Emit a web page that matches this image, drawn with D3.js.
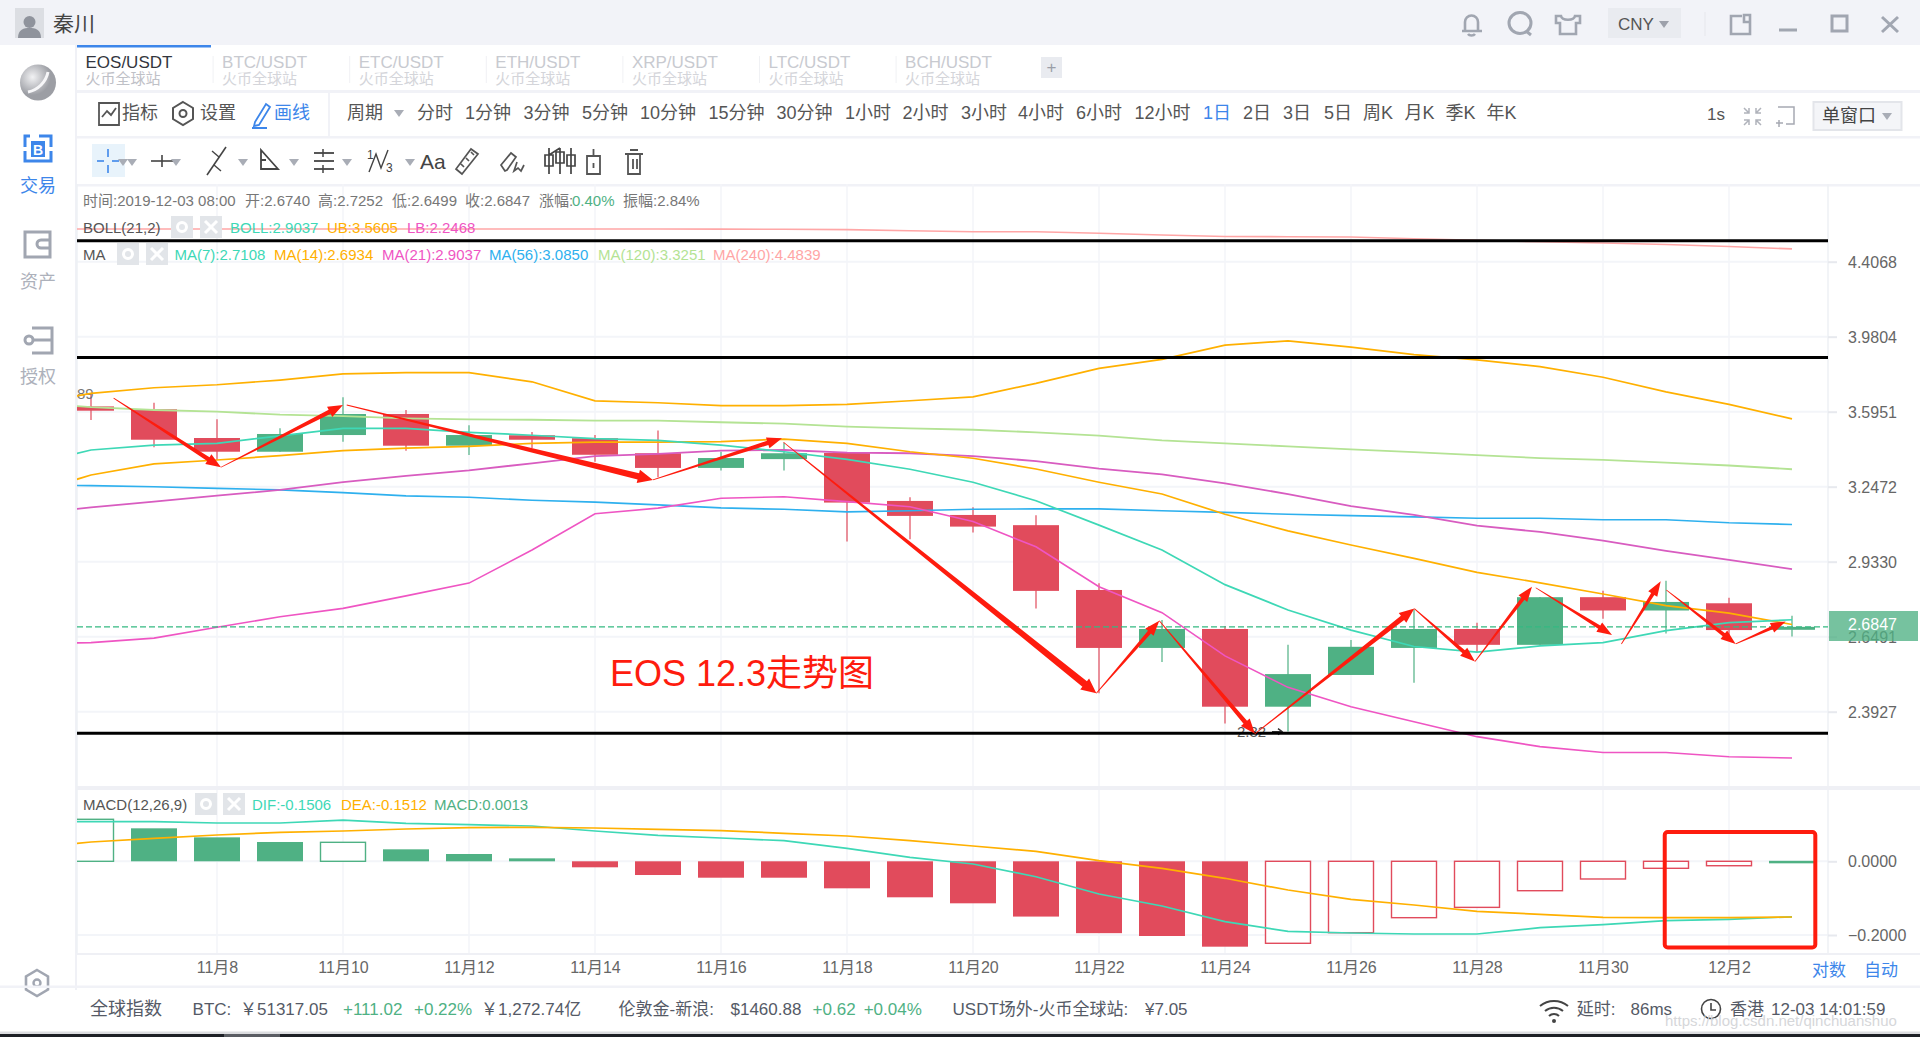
<!DOCTYPE html>
<html>
<head>
<meta charset="utf-8">
<title>EOS/USDT</title>
<script src="https://cdn.jsdelivr.net/npm/d3@7/dist/d3.min.js"></script>
<style>
  html, body { margin: 0; padding: 0; background: #fff; overflow: hidden; }
  svg { display: block; }
  text { font-family: "Liberation Sans", "Noto Sans CJK SC", sans-serif; dominant-baseline: central; }
</style>
</head>
<body>
<svg id="chart" width="1920" height="1037"></svg>
<script>
// chart data, one entry per day starting 11月5 (off the left edge, only the lines reach it)
const dates = ["11月5", "11月6", "11月7", "11月8", "11月9", "11月10", "11月11", "11月12", "11月13", "11月14",
  "11月15", "11月16", "11月17", "11月18", "11月19", "11月20", "11月21", "11月22", "11月23", "11月24",
  "11月25", "11月26", "11月27", "11月28", "11月29", "11月30", "12月1", "12月2", "12月3"];

const opens = [null, 3.621, 3.607, 3.469, 3.405, 3.483, 3.584, 3.433, 3.482, 3.468, 3.398, 3.331, 3.371, 3.399,
  3.185, 3.125, 3.082, 2.8225, 2.609, 2.677, 2.409, 2.515, 2.609, 2.677, 2.620, 2.795, 2.745, 2.772, 2.6740];
const closes = [null, 3.600, 3.461, 3.405, 3.488, 3.584, 3.433, 3.483, 3.461, 3.391, 3.331, 3.376, 3.398, 3.178,
  3.121, 3.076, 2.819, 2.609, 2.677, 2.409, 2.518, 2.613, 2.677, 2.620, 2.795, 2.745, 2.777, 2.673, 2.6847];
const highs = [null, 3.686, 3.639, 3.558, 3.515, 3.666, 3.604, 3.530, 3.497, 3.483, 3.504, 3.405, 3.447, 3.400,
  3.201, 3.158, 3.124, 2.848, 2.710, 2.688, 2.620, 2.637, 2.750, 2.700, 2.796, 2.820, 2.858, 2.793, 2.7252];
const lows = [null, 3.555, 3.426, 3.367, 3.405, 3.452, 3.410, 3.390, 3.422, 3.359, 3.289, 3.319, 3.319, 3.014,
  3.024, 3.051, 2.752, 2.453, 2.560, 2.355, 2.329, 2.515, 2.489, 2.595, 2.620, 2.714, 2.661, 2.655, 2.6499];

const bollUpper = [3.628, 3.686, 3.714, 3.729, 3.753, 3.784, 3.791, 3.791, 3.744, 3.648, 3.639, 3.625, 3.625, 3.631,
  3.649, 3.668, 3.736, 3.813, 3.860, 3.935, 3.958, 3.924, 3.885, 3.857, 3.822, 3.767, 3.693, 3.631, 3.5605];
const bollLower = [2.623, 2.628, 2.644, 2.683, 2.722, 2.753, 2.800, 2.849, 2.980, 3.130, 3.154, 3.197, 3.203, 3.182,
  3.160, 3.097, 2.993, 2.835, 2.737, 2.581, 2.473, 2.409, 2.360, 2.313, 2.282, 2.264, 2.264, 2.251, 2.2468];
const ma7 = [3.344, 3.413, 3.436, 3.444, 3.479, 3.515, 3.515, 3.496, 3.482, 3.466, 3.458, 3.436, 3.405, 3.370,
  3.325, 3.267, 3.186, 3.082, 2.980, 2.843, 2.747, 2.673, 2.614, 2.594, 2.616, 2.628, 2.671, 2.700, 2.7108];
const ma14 = [3.215, 3.299, 3.349, 3.367, 3.387, 3.410, 3.422, 3.430, 3.444, 3.450, 3.450, 3.452, 3.464, 3.444,
  3.405, 3.375, 3.326, 3.267, 3.215, 3.128, 3.058, 3.000, 2.946, 2.891, 2.850, 2.807, 2.763, 2.735, 2.6934];
const ma21 = [3.129, 3.157, 3.182, 3.208, 3.233, 3.267, 3.295, 3.320, 3.352, 3.385, 3.395, 3.410, 3.413, 3.401,
  3.398, 3.385, 3.362, 3.328, 3.302, 3.262, 3.215, 3.163, 3.125, 3.080, 3.054, 3.018, 2.976, 2.940, 2.9037];
const ma56 = [3.2558, 3.2517, 3.2472, 3.240, 3.233, 3.221, 3.207, 3.201, 3.188, 3.180, 3.168, 3.155, 3.149, 3.138,
  3.143, 3.149, 3.151, 3.151, 3.143, 3.136, 3.128, 3.122, 3.117, 3.111, 3.111, 3.105, 3.105, 3.092, 3.0850];
const ma120 = [3.643, 3.617, 3.6035, 3.595, 3.581, 3.574, 3.563, 3.558, 3.556, 3.552, 3.552, 3.544, 3.537, 3.523,
  3.515, 3.508, 3.496, 3.480, 3.458, 3.444, 3.430, 3.416, 3.403, 3.389, 3.376, 3.368, 3.355, 3.342, 3.3251];
const ma240 = [4.607, 4.607, 4.607, 4.607, 4.607, 4.607, 4.607, 4.607, 4.607, 4.607, 4.607, 4.606, 4.605, 4.603,
  4.596, 4.590, 4.590, 4.580, 4.569, 4.560, 4.559, 4.557, 4.546, 4.537, 4.528, 4.520, 4.511, 4.499, 4.4839];

const macdBars = [null, 0.114, 0.0895, 0.065, 0.0524, 0.0515, 0.0325, 0.0198, 0.008, -0.0163, -0.0372, -0.0445,
  -0.0445, -0.0733, -0.0977, -0.114, -0.150, -0.195, -0.2027, -0.2317, -0.2225, -0.1937, -0.153, -0.125, -0.0798,
  -0.048, -0.019, -0.012, 0.0013];
const macdHollowDays = [1, 5, 20, 21, 22, 23, 24, 25, 26, 27];
const dif = [0.1075, 0.1075, 0.1075, 0.104, 0.104, 0.112, 0.103, 0.0993, 0.0958, 0.0822, 0.0706, 0.0632, 0.0559,
  0.0353, 0.0109, -0.0073, -0.0418, -0.0887, -0.1213, -0.1639, -0.19, -0.1946, -0.1973, -0.1973, -0.1802, -0.172,
  -0.1612, -0.1574, -0.1506];
const dea = [0.036, 0.0524, 0.0624, 0.0714, 0.0787, 0.0822, 0.0877, 0.0912, 0.0923, 0.0904, 0.0868, 0.083, 0.076,
  0.0687, 0.0559, 0.0415, 0.0271, 0.0016, -0.019, -0.0461, -0.0779, -0.1031, -0.1186, -0.1357, -0.1438, -0.152,
  -0.153, -0.153, -0.1512];

const priceTicks = [4.4068, 3.9804, 3.5951, 3.2472, 2.9330, 2.6491, 2.3927];
const macdTicks = [0, -0.2];
const dateTicks = [3, 5, 7, 9, 11, 13, 15, 17, 19, 21, 23, 25, 27];
const lastClose = 2.6847;

// hand drawn notes on the picture, given as [day index, price]
const arrowStarts = [[1.359, 3.662], [3.063, 3.334], [5.059, 3.628], [9.919, 3.277], [11.992, 3.449], [16.958, 2.453],
  [17.957, 2.707], [19.476, 2.322], [22.005, 2.752], [22.968, 2.561], [23.932, 2.831], [25.292, 2.623], [26.006, 2.8225], [27.106, 2.623]];
const arrowEnds = [[3.063, 3.334], [5.0, 3.628], [9.919, 3.277], [11.968, 3.468], [16.958, 2.453], [17.957, 2.707],
  [19.476, 2.322], [22.005, 2.752], [22.968, 2.561], [23.873, 2.835], [25.143, 2.655], [25.916, 2.856], [27.106, 2.623], [27.9, 2.704]];
const blackLevels = [4.534, 3.869, 2.3237];

// colours
const red = "#e14b5c", green = "#4fb184", noteRed = "#fe1c0e";
const grid = "#f3f5f9", sep = "#f1f2f7", grey = "#a1a6b1", dark = "#555a66", faint = "#c8cad0", blue = "#3d86ea";
const cTeal = "#3ed8b6", cOrange = "#ffb000", cMagenta = "#ef55c3", cPurple = "#d85cc0", cBlue = "#2eb0ee", cLime = "#b4e394", cPink = "#ffa6a6";

const svg = d3.select("#chart");
const plotLeft = 77, plotRight = 1828, mainTop = 184, mainBottom = 787, macdTop = 790, macdBottom = 953;

const x = d3.scaleLinear().domain([0, 28]).range([28, 1792]);
const y = d3.scaleLog().domain([2.3927, 4.4068]).range([711.7, 261.7]);
const yMacd = d3.scaleLinear().domain([0, -0.2]).range([861.3, 935]);

function txt(s, px, py, size, color, anchor) {
  return svg.append("text").attr("x", px).attr("y", py).attr("font-size", size)
    .attr("fill", color).attr("text-anchor", anchor || "start").text(s);
}
function box(px, py, w, h, fill) {
  return svg.append("rect").attr("x", px).attr("y", py).attr("width", w).attr("height", h).attr("fill", fill);
}
function seg(x1, y1, x2, y2, color, w) {
  return svg.append("line").attr("x1", x1).attr("y1", y1).attr("x2", x2).attr("y2", y2)
    .attr("stroke", color).attr("stroke-width", w || 1);
}
function outline(d, color, w) {
  return svg.append("path").attr("d", d).attr("fill", "none").attr("stroke", color).attr("stroke-width", w || 2);
}
function caret(px, py, color) {
  svg.append("path").attr("d", `M${px},${py - 3}h10l-5,7z`).attr("fill", color || "#a9adb6");
}

// window frame
function drawFrame() {
  box(0, 0, 1920, 45, "#f2f3f8");
  box(15, 8, 29, 30, "#dcdee3");
  svg.append("circle").attr("cx", 29.5).attr("cy", 22).attr("r", 6).attr("fill", "#8f939c");
  svg.append("path").attr("d", "M18,38c0,-9 6,-10 11.5,-10s11.5,1 11.5,10z").attr("fill", "#8f939c");
  txt("秦川", 53, 23, 21, "#444");

  // top right controls
  outline("M1462,31h20M1465,31v-9a6.5,6.5 0 0 1 13,0v9M1468,34a4,3 0 0 0 7,0", grey, 2.6);
  svg.append("ellipse").attr("cx", 1520).attr("cy", 23).attr("rx", 11).attr("ry", 10.5)
    .attr("fill", "none").attr("stroke", grey).attr("stroke-width", 3);
  seg(1526, 31, 1531, 35, grey, 3);
  outline("M1561,16h-5v7h4v11h16v-11h4v-7h-5c-1,5 -13,5 -14,0z", grey, 2.6);
  box(1608, 8, 73, 30, "#e9ebf0");
  txt("CNY", 1618, 24, 17, "#555");
  caret(1659, 24, "#9da1ab");
  seg(1705, 12, 1705, 36, "#e6e7ec", 1);
  outline("M1742,16h-11v18h19v-11M1744,15h6v7h-6z", grey, 2.6);
  seg(1779, 30, 1797, 30, grey, 3);
  outline("M1832,16h15v15h-15z", grey, 3);
  seg(1882, 17, 1898, 32, grey, 3);
  seg(1898, 17, 1882, 32, grey, 3);

  // left side bar
  box(75, 45, 2, 945, "#f0f1f6");
  const orb = svg.append("defs").append("radialGradient").attr("id", "orb").attr("cx", "35%").attr("cy", "35%");
  orb.append("stop").attr("offset", "0%").attr("stop-color", "#f2f2f4");
  orb.append("stop").attr("offset", "100%").attr("stop-color", "#9c9ea4");
  svg.append("ellipse").attr("cx", 38).attr("cy", 82.5).attr("rx", 18).attr("ry", 18).attr("fill", "url(#orb)");
  outline("M28,92c10,-2 18,-10 20,-20", "#f6f6f8", 3);
  outline("M30,136h-5v11M25,151v10h26v-10M51,147v-11h-6M39,136h6", blue, 3);
  box(31, 141, 14, 16, blue);
  svg.append("text").attr("x", 38).attr("y", 149.5).attr("font-size", 14).attr("font-weight", "bold")
    .attr("fill", "#fff").attr("text-anchor", "middle").text("B");
  txt("交易", 38, 186, 18, blue, "middle");
  outline("M25,232h25v25h-25zM50,240h-9a4,4 0 0 0 0,8h9", grey, 3);
  txt("资产", 38, 282, 18, "#adb1bb", "middle");
  outline("M32,328h20v25h-20M29,340h23", grey, 3);
  svg.append("circle").attr("cx", 29).attr("cy", 340).attr("r", 4).attr("fill", "#fff").attr("stroke", grey).attr("stroke-width", 3);
  txt("授权", 38, 377, 18, "#adb1bb", "middle");
  outline("M37,970l11,6.5v13l-11,6.5l-11,-6.5v-13z", grey, 2.6);
  svg.append("circle").attr("cx", 37).attr("cy", 983).attr("r", 3.5).attr("fill", "none").attr("stroke", grey).attr("stroke-width", 2.4);

  // tabs
  box(77, 45, 134, 2.5, blue);
  const tabs = ["EOS/USDT", "BTC/USDT", "ETC/USDT", "ETH/USDT", "XRP/USDT", "LTC/USDT", "BCH/USDT"];
  tabs.forEach((t, i) => {
    const tx = 85.5 + i * 136.6;
    txt(t, tx, 62, 17, i === 0 ? "#33363e" : faint);
    txt("火币全球站", tx, 78, 15, i === 0 ? "#bfc1c7" : "#d4d5da");
    if (i > 0) seg(tx - 9, 56, tx - 9, 83, "#f0f1f4", 1);
  });
  box(1041, 57, 21, 21, "#e9ebf0");
  txt("+", 1051.5, 67, 17, "#9a9ea8", "middle");
  box(77, 90, 1843, 3, sep);
  box(77, 136, 1843, 2.5, sep);
  box(77, 184, 1843, 2.5, sep);
  seg(329, 93, 329, 136, sep, 2);

  // indicator and period row
  outline("M99,103h20v22h-20zM102,117l5,-6l4,4l5,-7", "#555", 1.8);
  txt("指标", 122, 113, 18, "#555");
  outline("M183,102l10,6v11l-10,6l-10,-6v-11z", "#555", 2);
  svg.append("circle").attr("cx", 183).attr("cy", 113.5).attr("r", 3.5).attr("fill", "none").attr("stroke", "#555").attr("stroke-width", 2);
  txt("设置", 200, 113, 18, "#555");
  outline("M255,122l11,-18l4,3l-11,18l-5,1zM252,128h15", blue, 1.8);
  txt("画线", 274, 113, 18, blue);
  txt("周期", 347, 113, 18, "#555");
  caret(394, 113);
  const periods = ["分时", "1分钟", "3分钟", "5分钟", "10分钟", "15分钟", "30分钟", "1小时", "2小时", "3小时", "4小时", "6小时", "12小时",
    "1日", "2日", "3日", "5日", "周K", "月K", "季K", "年K"];
  const periodX = [417, 465, 523.6, 582, 640, 708.5, 776.5, 845, 902.6, 961, 1018, 1076, 1134.5, 1203, 1243, 1283, 1324, 1363, 1404.6, 1445.6, 1486.6];
  periods.forEach((p, i) => txt(p, periodX[i], 113, 18, p === "1日" ? blue : "#555"));
  txt("1s", 1707, 114, 17, "#555");
  outline("M1744,108l5,5M1744,113h5v-5M1761,108l-5,5M1761,113h-5v-5M1744,125l5,-5M1744,120h5v5M1761,125l-5,-5M1761,120h-5v5", "#b0b3bb", 1.5);
  outline("M1778,107h16v17h-8M1779,120v7M1776,123h7", "#a6a9b2", 1.5);
  svg.append("rect").attr("x", 1813.5).attr("y", 102).attr("width", 88).attr("height", 28)
    .attr("fill", "#f4f5f8").attr("stroke", "#e3e5ea").attr("stroke-width", 2);
  txt("单窗口", 1822, 116, 18, "#444");
  caret(1882, 116);

  // drawing tools row
  box(92, 144, 33, 33, "#e8f3fb");
  seg(97, 161, 104, 161, blue, 1.6); seg(112, 161, 119, 161, blue, 1.6);
  seg(108, 149, 108, 157, blue, 1.6); seg(108, 165, 108, 173, blue, 1.6);
  seg(151, 161, 174, 161, "#444", 1.6); seg(162, 155, 162, 167, "#444", 1.6);
  seg(207, 175, 226, 147, "#444", 1.6); seg(212, 151, 219, 157, "#444", 1.4); seg(214, 165, 221, 171, "#444", 1.4);
  outline("M261,150v19h17zM261,160h5", "#444", 1.8);
  seg(314, 153, 334, 153, "#444", 1.8); seg(314, 161, 334, 161, "#444", 1.8); seg(314, 169, 334, 169, "#444", 1.8);
  seg(323, 149, 323, 157, "#444", 1.5); seg(323, 165, 323, 173, "#444", 1.5);
  outline("M369,172l7,-18l5,14l7,-18", "#444", 1.4);
  txt("1", 367, 155, 12, "#444"); txt("3", 386, 168, 12, "#444");
  txt("Aa", 420, 161, 21, "#444");
  outline("M462,174l-6,-5l15,-20l7,5zM461,164l3,3M466,158l3,3M471,152l3,3", "#555", 1.7);
  outline("M505,171l-4,-6l10,-12l5,4l-9,13zM517,162l-3,9l4,-3l3,3l3,-6", "#555", 1.7);
  outline("M549,148v26M560,148v26M571,148v26M545,155h8v11h-8zM556,152h8v11h-8zM567,155h8v11h-8zM549,155l11,-7", "#444", 1.7);
  outline("M587,156h13v18h-13zM593.5,156v-7M593.5,163v5", "#555", 1.8);
  outline("M625,154h18M628,154v20h12v-20M630,150h8M633,159v10M637,159v10", "#555", 1.8);
  [113, 166, 233, 284, 337, 400].forEach(px => caret(px + 15 - 15 + (px > 400 ? 0 : 5), 162));
  caret(127, 162); 
}

// info lines above the chart
function drawInfo() {
  const infoStrings = ["时间:2019-12-03 08:00", "开:2.6740", "高:2.7252", "低:2.6499", "收:2.6847", "涨幅:", "0.40%", "振幅:2.84%"];
  const infoX = [83, 245, 318, 392, 465, 539, 572, 623];
  infoStrings.forEach((s, i) => txt(s, infoX[i], 200, 15, s === "0.40%" ? green : "#777"));

  const badge = (bx, by) => {
    box(bx, by, 22, 22, "#e2e5e9");
  };
  txt("BOLL(21,2)", 83, 227, 15, "#555");
  badge(171, 216); badge(200, 216);
  txt("BOLL:2.9037", 230, 227, 15, cTeal);
  txt("UB:3.5605", 327, 227, 15, cOrange);
  txt("LB:2.2468", 407, 227, 15, cMagenta);
  txt("MA", 83, 254, 15, "#555");
  badge(117, 243); badge(146, 243);
  const maLabels = ["MA(7):2.7108", "MA(14):2.6934", "MA(21):2.9037", "MA(56):3.0850", "MA(120):3.3251", "MA(240):4.4839"];
  const maLabelX = [174.5, 274, 382, 489, 598, 713];
  const maColors = [cTeal, cOrange, cMagenta, cBlue, cLime, cPink];
  maLabels.forEach((s, i) => txt(s, maLabelX[i], 254, 15, maColors[i]));

  txt("MACD(12,26,9)", 83, 804, 15, "#555");
  badge(195, 793); badge(223, 793);
  txt("DIF:-0.1506", 252, 804, 15, cTeal);
  txt("DEA:-0.1512", 341, 804, 15, cOrange);
  txt("MACD:0.0013", 434, 804, 15, green);

  [[182, 227], [211, 227], [128, 254], [157, 254], [206, 804], [234, 804]].forEach(([bx, by], i) => {
    if (i % 2 === 0) {
      svg.append("circle").attr("cx", bx).attr("cy", by).attr("r", 4.5).attr("fill", "none").attr("stroke", "#fff").attr("stroke-width", 3);
    } else {
      seg(bx - 6, by - 6, bx + 6, by + 6, "#fff", 3);
      seg(bx + 6, by - 6, bx - 6, by + 6, "#fff", 3);
    }
  });
}

function drawGrid() {
  dateTicks.forEach(d => {
    seg(x(d), mainTop, x(d), mainBottom, grid, 1.5);
    seg(x(d), macdTop, x(d), macdBottom, grid, 1.5);
  });
  priceTicks.forEach(p => seg(plotLeft, y(p), plotRight, y(p), grid, 2));
  macdTicks.forEach(p => seg(plotLeft, yMacd(p), plotRight, yMacd(p), grid, 2));
  seg(plotLeft, mainTop, plotLeft, macdBottom, "#eef0f4", 1.5);
  seg(plotRight, mainTop, plotRight, macdBottom, "#eef0f4", 1.5);
  box(plotLeft, 786, plotRight - plotLeft + 92, 4, "#eff0f5");
  box(plotLeft, macdBottom, 1843, 2, "#eff0f5");
  box(0, 985.5, 1920, 2.5, sep);
}

function drawAxes() {
  const priceAxis = d3.axisRight(y).tickValues(priceTicks).tickFormat(d3.format(".4f")).tickSize(9).tickPadding(11);
  const macdAxis = d3.axisRight(yMacd).tickValues(macdTicks).tickFormat(d3.format(".4f")).tickSize(9).tickPadding(11);
  const dateAxis = d3.axisBottom(x).tickValues(dateTicks).tickFormat(i => dates[i]).tickSize(0).tickPadding(14);

  [svg.append("g").attr("transform", `translate(${plotRight},0)`).call(priceAxis),
   svg.append("g").attr("transform", `translate(${plotRight},0)`).call(macdAxis),
   svg.append("g").attr("transform", `translate(0,${macdBottom})`).call(dateAxis)].forEach(g => {
    g.select(".domain").remove();
    g.selectAll("line").attr("stroke", "#e7e9ee").attr("stroke-width", 2);
    g.selectAll("text").attr("font-size", 16).attr("fill", "#666").attr("font-family", '"Liberation Sans", "Noto Sans CJK SC", sans-serif');
  });
  svg.selectAll("g .tick text").attr("dy", null);
}

function drawMain() {
  const defs = svg.append("defs");
  defs.append("clipPath").attr("id", "mainClip").append("rect")
    .attr("x", plotLeft).attr("y", mainTop).attr("width", plotRight - plotLeft).attr("height", mainBottom - mainTop);
  defs.append("clipPath").attr("id", "macdClip").append("rect")
    .attr("x", plotLeft).attr("y", macdTop).attr("width", plotRight - plotLeft).attr("height", macdBottom - macdTop);

  const g = svg.append("g").attr("clip-path", "url(#mainClip)");

  // candles
  const days = d3.range(1, dates.length);
  const isUp = i => closes[i] >= opens[i];
  g.selectAll(".wick").data(days).join("line")
    .attr("x1", i => x(i)).attr("x2", i => x(i))
    .attr("y1", i => y(highs[i])).attr("y2", i => y(lows[i]))
    .attr("stroke", i => isUp(i) ? green : red).attr("stroke-width", 1.2);
  g.selectAll(".body").data(days).join("rect")
    .attr("x", i => x(i) - 23).attr("width", 46)
    .attr("y", i => y(Math.max(opens[i], closes[i])))
    .attr("height", i => Math.abs(y(opens[i]) - y(closes[i])))
    .attr("fill", i => isUp(i) ? green : red);

  // the low label sits under the black line
  g.append("text").attr("x", 1237).attr("y", y(2.329)).attr("font-size", 15).attr("fill", "#555").text("2.32");
  g.append("path").attr("d", `M1272,${y(2.329)}h10m-4,-3l4,3l-4,3`).attr("fill", "none").attr("stroke", "#333").attr("stroke-width", 1.4);
  g.append("text").attr("x", 77).attr("y", y(3.686)).attr("font-size", 15).attr("fill", "#777").text("89");

  // moving averages and bands
  const line = d3.line().x((d, i) => x(i)).y(d => y(d));
  const series = [
    [ma240, cPink, 1.6], [ma120, cLime, 1.8], [ma56, cBlue, 1.6], [ma21, cPurple, 1.8],
    [bollLower, cMagenta, 1.6], [bollUpper, cOrange, 1.7], [ma14, cOrange, 1.7], [ma7, cTeal, 1.7]
  ];
  series.forEach(([values, color, w]) => {
    g.append("path").attr("d", line(values)).attr("fill", "none").attr("stroke", color).attr("stroke-width", w);
  });

  g.append("line").attr("x1", plotLeft).attr("x2", plotRight).attr("y1", y(lastClose)).attr("y2", y(lastClose))
    .attr("stroke", "#35b981").attr("stroke-width", 1.2).attr("stroke-dasharray", "6,3");

  // macd panel
  const m = svg.append("g").attr("clip-path", "url(#macdClip)");
  const barTop = v => Math.min(yMacd(0), yMacd(v));
  const barHeight = v => Math.max(2.5, Math.abs(yMacd(v) - yMacd(0)));
  m.selectAll(".macd").data(days).join("rect")
    .attr("x", i => x(i) - (macdHollowDays.includes(i) ? 22.5 : 23))
    .attr("width", i => macdHollowDays.includes(i) ? 45 : 46)
    .attr("y", i => barTop(macdBars[i]))
    .attr("height", i => barHeight(macdBars[i]))
    .attr("fill", i => macdHollowDays.includes(i) ? "#fff" : (macdBars[i] >= 0 ? green : red))
    .attr("stroke", i => macdHollowDays.includes(i) ? (macdBars[i] >= 0 ? green : red) : "none")
    .attr("stroke-width", 1.4);
  const macdLine = d3.line().x((d, i) => x(i)).y(d => yMacd(d));
  m.append("path").attr("d", macdLine(dif)).attr("fill", "none").attr("stroke", cTeal).attr("stroke-width", 1.7);
  m.append("path").attr("d", macdLine(dea)).attr("fill", "none").attr("stroke", cOrange).attr("stroke-width", 1.7);
}

// last price badge on the price axis
function drawPriceBadge() {
  box(plotRight + 1, 611, 89, 30, "#4fb184").attr("opacity", 0.78);
  txt("2.6847", plotRight + 20, 624, 16, "#fff");
}

// the red markup someone drew over the screenshot
function taperedArrow(from, to) {
  const x0 = x(from[0]), y0 = y(from[1]), x1 = x(to[0]), y1 = y(to[1]);
  const len = Math.hypot(x1 - x0, y1 - y0);
  const ux = (x1 - x0) / len, uy = (y1 - y0) / len;
  const nx = -uy, ny = ux;
  const neck = 1.4 + Math.min(len * 0.006, 2.2);
  const headW = neck + 3.5, headL = 15;
  const bx = x1 - ux * headL, by = y1 - uy * headL;
  const pts = [
    [x0 + nx * 0.4, y0 + ny * 0.4],
    [bx + nx * neck, by + ny * neck],
    [bx + nx * headW, by + ny * headW],
    [x1, y1],
    [bx - nx * headW, by - ny * headW],
    [bx - nx * neck, by - ny * neck],
    [x0 - nx * 0.4, y0 - ny * 0.4]
  ];
  svg.append("path").attr("d", d3.line()(pts) + "Z").attr("fill", noteRed);
}

function drawNotes() {
  blackLevels.forEach(p => {
    svg.append("line").attr("x1", plotLeft).attr("x2", plotRight).attr("y1", y(p)).attr("y2", y(p))
      .attr("stroke", "#000").attr("stroke-width", 3);
  });
  arrowStarts.forEach((s, i) => taperedArrow(s, arrowEnds[i]));
  svg.append("text").attr("x", 610).attr("y", 673).attr("font-size", 36).attr("fill", noteRed).text("EOS 12.3走势图");
  svg.append("rect")
    .attr("x", x(25.98)).attr("y", yMacd(0.0795))
    .attr("width", x(28.37) - x(25.98)).attr("height", yMacd(-0.234) - yMacd(0.0795))
    .attr("rx", 3).attr("fill", "none").attr("stroke", noteRed).attr("stroke-width", 4);
}

// status bar at the bottom
function drawFooter() {
  txt("对数", 1812, 970, 17, blue);
  txt("自动", 1864, 970, 17, blue);
  const c = "#555a66";
  txt("全球指数", 90, 1009, 18, c);
  txt("BTC:", 192.6, 1009, 17, c);
  txt("￥51317.05", 240, 1009, 17, c);
  txt("+111.02", 343, 1009, 17, green);
  txt("+0.22%", 414, 1009, 17, green);
  txt("￥1,272.74亿", 481, 1009, 17, c);
  txt("伦敦金-新浪:", 618.6, 1009, 17, c);
  txt("$1460.88", 730.5, 1009, 17, c);
  txt("+0.62", 812.6, 1009, 17, green);
  txt("+0.04%", 863.7, 1009, 17, green);
  txt("USDT场外-火币全球站:", 952.6, 1009, 17, c);
  txt("¥7.05", 1145, 1009, 17, c);
  outline("M1540,1006a22,22 0 0 1 28,0M1545,1011a14,14 0 0 1 18,0M1549,1016a7,7 0 0 1 10,0", "#444", 2);
  svg.append("circle").attr("cx", 1554).attr("cy", 1021).attr("r", 2).attr("fill", "#444");
  txt("延时:", 1576.7, 1009, 17, c);
  txt("86ms", 1630.5, 1009, 17, c);
  svg.append("circle").attr("cx", 1711).attr("cy", 1009).attr("r", 9.5).attr("fill", "none").attr("stroke", "#444").attr("stroke-width", 1.6);
  outline("M1711,1003v7h5", "#444", 1.6);
  txt("香港", 1730, 1009, 17, c);
  txt("12-03 14:01:59", 1771, 1009, 17, c);
  txt("https://blog.csdn.net/qinchuanshuo", 1665, 1020, 15, "#d6d7da");
  box(0, 1031.5, 1920, 2.5, "#dcdde0");
  box(0, 1034, 1920, 3, "#1d2026");
  box(224, 1034, 56, 3, "#5a5d63");
}

drawFrame();
drawGrid();
drawAxes();
drawMain();
drawPriceBadge();
drawNotes();
drawInfo();
drawFooter();
</script>
</body>
</html>
